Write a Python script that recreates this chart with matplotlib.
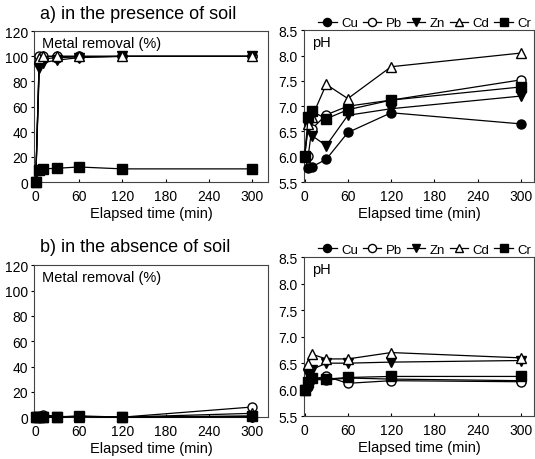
import numpy as np
import matplotlib.pyplot as plt

plt.rcParams['font.family'] = ['Liberation Sans', 'DejaVu Sans']

t = [0, 5, 10, 30, 60, 120, 300]
metals = ['Cu', 'Pb', 'Zn', 'Cd', 'Cr']
markers = {'Cu': ('o', 'black'), 'Pb': ('o', 'white'), 'Zn': ('v', 'black'),
           'Cd': ('^', 'white'), 'Cr': ('s', 'black')}

# a) in the presence of soil
rem_a = {
    'Cu': [0, 95, 98, 99, 99.5, 100, 100],
    'Pb': [0, 100, 100, 100, 100, 100, 100],
    'Zn': [0, 91, 95, 97, 99, 100, 100],
    'Cd': [0, 99, 100, 100, 100, 100, 100],
    'Cr': [0, 9.5, 10.5, 11, 12, 10.5, 10.5],
}
ph_a = {
    'Cu': [6.0, 5.77, 5.8, 5.95, 6.48, 6.87, 6.65],
    'Pb': [6.0, 6.02, 6.55, 6.83, 7.0, 7.12, 7.52],
    'Zn': [6.0, 6.6, 6.42, 6.22, 6.82, 6.95, 7.2],
    'Cd': [6.0, 6.65, 6.78, 7.43, 7.15, 7.78, 8.05],
    'Cr': [6.02, 6.78, 6.9, 6.75, 6.93, 7.12, 7.38],
}

# b) in the absence of soil
rem_b = {
    'Cu': [0, 0, 0.5, 0, 0.5, 0, 0],
    'Pb': [0, 0.5, 2, 0.5, 0.5, 0, 8],
    'Zn': [0, 0, 0, 0, 0.5, 0, 0.5],
    'Cd': [0, 0.5, 0.5, 0, 0.5, 0, 3],
    'Cr': [0, 0, 0, 0, 1, 0, 1],
}
ph_b = {
    'Cu': [6.0, 6.05, 6.2, 6.18, 6.22, 6.2, 6.17],
    'Pb': [6.0, 6.1, 6.2, 6.25, 6.12, 6.17, 6.15],
    'Zn': [6.0, 6.3, 6.38, 6.5, 6.5, 6.52, 6.55],
    'Cd': [6.0, 6.48, 6.67, 6.58, 6.58, 6.7, 6.6],
    'Cr': [6.0, 6.15, 6.22, 6.2, 6.23, 6.25, 6.25],
}


def draw(ax, data, ylim, yticks, fmt, inner):
    for m in metals:
        mk, fc = markers[m]
        ax.plot(t, data[m], marker=mk, color='black', markerfacecolor=fc,
                markeredgecolor='black', markersize=6.5, linewidth=0.9,
                label=m, clip_on=False, zorder=3)
    ax.set_ylim(*ylim)
    ax.set_yticks(yticks)
    ax.set_yticklabels([fmt.format(v) for v in yticks])
    ax.set_xticks([0, 60, 120, 180, 240, 300])
    ax.tick_params(axis='x', direction='in', length=2.5, labelsize=10, pad=5)
    ax.tick_params(axis='y', direction='out', length=2.5, labelsize=10, pad=2)
    ax.set_xlabel('Elapsed time (min)', fontsize=10.5, labelpad=2)
    for s in ax.spines.values():
        s.set_linewidth(0.8)
        s.set_color('#444444')
    ax.text(0.035, 0.97, inner, transform=ax.transAxes, fontsize=10.5,
            va='top', ha='left')


fig = plt.figure(figsize=(5.35, 4.6), dpi=100)
ax1 = fig.add_axes([0.064, 0.602, 0.437, 0.328])
ax2 = fig.add_axes([0.568, 0.602, 0.430, 0.330])
ax3 = fig.add_axes([0.064, 0.091, 0.437, 0.330])
ax4 = fig.add_axes([0.568, 0.093, 0.430, 0.346])

draw(ax1, rem_a, (0, 120), np.arange(0, 121, 20), '{:.0f}', 'Metal removal (%)')
draw(ax2, ph_a, (5.5, 8.5), np.arange(5.5, 8.51, 0.5), '{:.1f}', 'pH')
draw(ax3, rem_b, (0, 120), np.arange(0, 121, 20), '{:.0f}', 'Metal removal (%)')
draw(ax4, ph_b, (5.5, 8.5), np.arange(5.5, 8.51, 0.5), '{:.1f}', 'pH')
ax1.set_xlim(-2, 322)
ax3.set_xlim(-2, 322)
ax2.set_xlim(-1, 318)
ax4.set_xlim(-1, 318)

fig.text(0.075, 0.968, 'a) in the presence of soil', fontsize=13, va='center')
fig.text(0.075, 0.462, 'b) in the absence of soil', fontsize=13, va='center')

for ax in (ax2, ax4):
    ax.legend(loc='lower right', bbox_to_anchor=(1.0, 0.99), ncol=5,
              frameon=False, fontsize=9.5, handlelength=1.4, handletextpad=0.35,
              columnspacing=0.35, borderaxespad=0.1, borderpad=0.1,
              markerscale=0.9)

fig.savefig('out.png', dpi=100)
